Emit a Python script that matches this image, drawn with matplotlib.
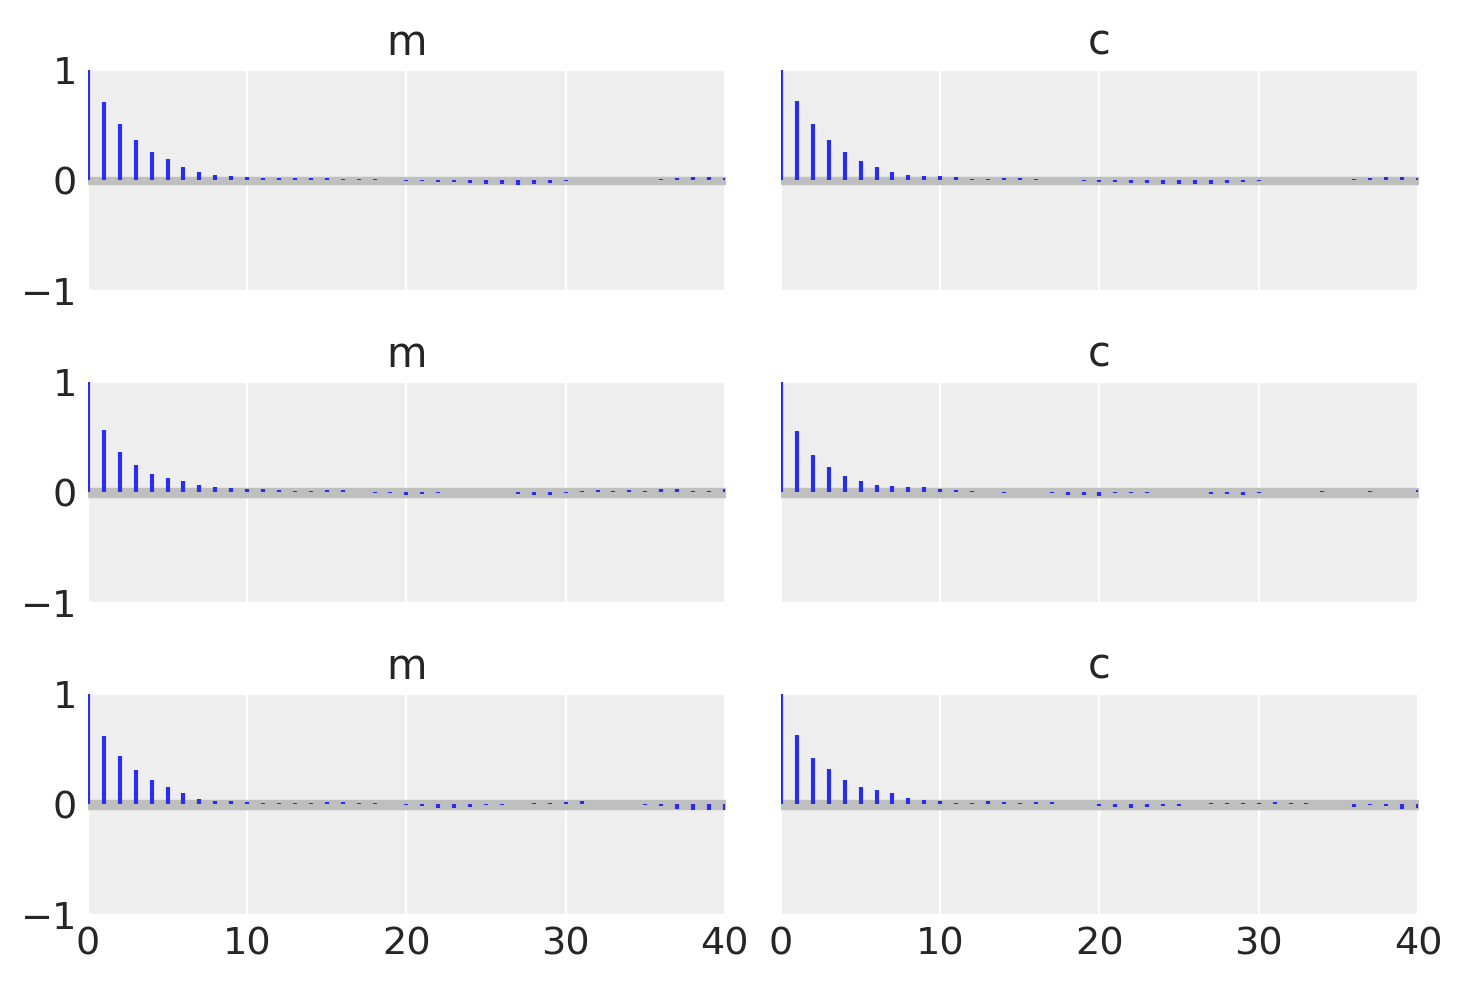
import numpy as np
import matplotlib.pyplot as plt

# autocorrelation values, lags 0..40
lags = np.arange(0, 41)

m_chain0 = [1.0, 0.71, 0.51, 0.37, 0.26, 0.19, 0.126, 0.08, 0.054, 0.036,
            0.027, 0.018, 0.018, 0.018, 0.018, 0.018, 0.009, 0.009, 0.009, 0.0,
            -0.004, -0.004, -0.015, -0.012, -0.025, -0.033, -0.033, -0.042, -0.033, -0.025,
            -0.004, 0.0, 0.008, 0.008, 0.0, 0.005, 0.015, 0.025, 0.035, 0.035, 0.025]
c_chain0 = [1.0, 0.72, 0.51, 0.37, 0.26, 0.18, 0.126, 0.08, 0.054, 0.036,
            0.036, 0.027, 0.009, 0.009, 0.018, 0.018, 0.009, 0.0, 0.0, -0.005,
            -0.013, -0.012, -0.025, -0.022, -0.033, -0.033, -0.033, -0.033, -0.025, -0.015,
            -0.004, 0.004, 0.004, 0.004, 0.0, 0.004, 0.015, 0.025, 0.035, 0.035, 0.025]
m_chain1 = [1.0, 0.57, 0.37, 0.25, 0.17, 0.135, 0.10, 0.072, 0.054, 0.045,
            0.027, 0.027, 0.018, 0.009, 0.009, 0.018, 0.018, 0.0, -0.005, -0.005,
            -0.025, -0.015, -0.004, 0.0, 0.0, 0.0, 0.0, -0.015, -0.025, -0.025,
            -0.004, 0.015, 0.025, 0.015, 0.025, 0.015, 0.035, 0.035, 0.015, 0.015, 0.035]
c_chain1 = [1.0, 0.56, 0.34, 0.23, 0.15, 0.10, 0.072, 0.063, 0.054, 0.054,
            0.036, 0.018, 0.009, 0.0, -0.005, 0.005, 0.005, -0.005, -0.025, -0.025,
            -0.035, -0.004, -0.004, -0.004, 0.0, 0.004, 0.0, -0.015, -0.015, -0.025,
            -0.004, 0.0, 0.004, 0.004, 0.015, 0.004, 0.004, 0.015, 0.004, 0.004, 0.02]
m_chain2 = [1.0, 0.62, 0.44, 0.315, 0.225, 0.162, 0.108, 0.054, 0.036, 0.036,
            0.027, 0.009, 0.009, 0.018, 0.018, 0.027, 0.027, 0.018, 0.009, 0.0,
            -0.004, -0.015, -0.03, -0.03, -0.025, -0.004, -0.004, 0.004, 0.015, 0.015,
            0.025, 0.035, 0.004, 0.004, 0.004, -0.004, -0.015, -0.045, -0.05, -0.05, -0.05]
c_chain2 = [1.0, 0.63, 0.42, 0.325, 0.225, 0.162, 0.135, 0.10, 0.063, 0.045,
            0.036, 0.018, 0.018, 0.036, 0.027, 0.018, 0.027, 0.027, 0.006, 0.0,
            -0.015, -0.025, -0.035, -0.025, -0.015, -0.015, 0.0, 0.015, 0.015, 0.015,
            0.015, 0.025, 0.015, 0.015, 0.004, 0.0, -0.025, -0.004, -0.015, -0.045, -0.035]

rows = [(m_chain0, c_chain0), (m_chain1, c_chain1), (m_chain2, c_chain2)]
titles = ["m", "c"]
conf_band = [0.032, 0.045, 0.045]

plt.rcParams['font.family'] = ['DejaVu Sans']
fig, axes = plt.subplots(3, 2, figsize=(14.63, 9.83), dpi=100, sharex=True, sharey=True)
fig.subplots_adjust(left=0.0601, right=0.9692, top=0.9288, bottom=0.0692,
                    wspace=0.088, hspace=0.412)

for i, row in enumerate(rows):
    for j, vals in enumerate(row):
        ax = axes[i, j]
        ax.set_facecolor('#eeeeee')
        ax.grid(True, color='white', linewidth=1.6)
        ax.set_axisbelow(True)
        for s in ax.spines.values():
            s.set_visible(False)
        ax.fill_between([0, 40], -conf_band[i], conf_band[i], color='0.75', zorder=2)
        ax.vlines(lags, 0, vals, color='#2a2eec', linewidth=3.0, zorder=3)
        ax.set_xlim(0, 40)
        ax.set_ylim(-1, 1)
        ax.set_xticks([0, 10, 20, 30, 40])
        ax.set_yticks([-1, 0, 1])
        ax.tick_params(length=0, labelsize=27.5, labelcolor='#262626', pad=8)
        ax.set_title(titles[j], fontsize=30, color='#262626', pad=11)

plt.savefig('out.png')
